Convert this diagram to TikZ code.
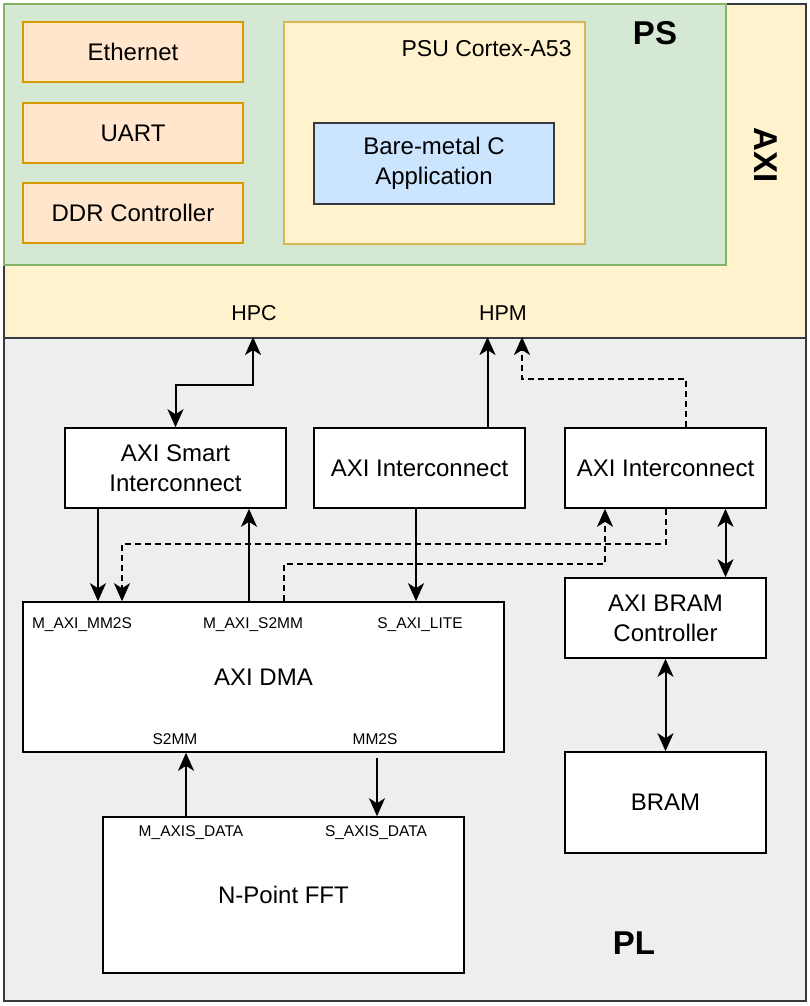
\documentclass[tikz,border=0pt]{standalone}
\usepackage{fontspec}
\setmainfont{Liberation Sans}
\usepackage{xcolor}
\usepackage{tikz}
\usetikzlibrary{arrows.meta, calc}

\definecolor{PSGreen}{HTML}{D5E8D4}
\definecolor{PSGreenLine}{HTML}{82B366}
\definecolor{AXIYellow}{HTML}{FFF2CC}
\definecolor{AXIYellowLine}{HTML}{D6B656}
\definecolor{PeriphFill}{HTML}{FFE6CC}
\definecolor{PeriphLine}{HTML}{D79B00}
\definecolor{AppBlue}{HTML}{CCE5FF}
\definecolor{DarkLine}{HTML}{36393D}
\definecolor{PLGray}{HTML}{EEEEEE}

\tikzset{
	region/.style={anchor=north west, line width=1.6pt, inner sep=0pt},
	block/.style={draw=black, fill=white, line width=1.6pt, inner sep=0pt, align=center,
		font=\fontsize{24}{30}\selectfont},
	periph/.style={block, draw=PeriphLine, fill=PeriphFill, minimum width=220, minimum height=60},
	port/.style={font=\fontsize{15.5}{18}\selectfont, inner sep=0pt},
	bigtitle/.style={font=\fontsize{33}{40}\selectfont\bfseries, inner sep=0pt},
	link/.style={line width=2pt, -{Stealth[length=18pt, width=16pt, inset=5pt]}},
	duplex/.style={link, {Stealth[length=18pt, width=16pt, inset=5pt]}-{Stealth[length=18pt, width=16pt, inset=5pt]}},
	dashlink/.style={link, dash pattern=on 6pt off 4pt}
}

\begin{document}
\begin{tikzpicture}[x=1pt, y=-1pt]

	\useasboundingbox (0,0) rectangle (809,1006);

	% AXI, PS and PL regions
	\node[region, draw=DarkLine, fill=AXIYellow, minimum width=802, minimum height=334] (axi) at (3,3) {};
	\node[region, draw=PSGreenLine, fill=PSGreen, minimum width=722, minimum height=261] (ps) at (3,3) {};
	\node[region, draw=DarkLine, fill=PLGray, minimum width=802, minimum height=663] (pl) at (3,337) {};

	\node[bigtitle] (pslbl) at (655,33) {PS};
	\node[bigtitle, rotate=-90] (axilbl) at (766,155) {AXI};
	\node[bigtitle] (pllbl) at (634,943) {PL};

	% PS side
	\node[periph] (eth) at (133,52) {Ethernet};
	\node[periph] (uart) at (133,133) {UART};
	\node[periph] (ddr) at (133,213) {DDR Controller};

	\node[block, draw=AXIYellowLine, fill=AXIYellow, minimum width=301, minimum height=222] (psu) at (434.5,133) {};
	\node[anchor=east, inner sep=0pt, font=\fontsize{23}{28}\selectfont] (psulbl) at ($ (psu.north east)+(-14,27) $) {PSU Cortex-A53};
	\node[block, draw=DarkLine, fill=AppBlue, minimum width=240, minimum height=81] (app) at (434,163.5) {Bare-metal C\\Application};

	\node[port, font=\fontsize{21.5}{26}\selectfont] (hpc) at (254,313) {HPC};
	\node[port, font=\fontsize{21.5}{26}\selectfont] (hpm) at (503,313) {HPM};

	% PL side
	\node[block, minimum width=221, minimum height=80] (smart) at (175.5,468) {AXI Smart\\Interconnect};
	\node[block, minimum width=211, minimum height=80] (icmid) at (419.5,468) {AXI Interconnect};
	\node[block, minimum width=201, minimum height=80] (icright) at (665.5,468) {AXI Interconnect};
	\node[block, minimum width=481, minimum height=150] (dma) at (263.5,677) {AXI DMA};
	\node[block, minimum width=201, minimum height=80] (bramctl) at (665.5,618) {AXI BRAM\\Controller};
	\node[block, minimum width=201, minimum height=101] (bram) at (665.5,802.5) {BRAM};
	\node[block, minimum width=361, minimum height=156] (fft) at (283.5,895) {N-Point FFT};

	\node[port] (mm2sm) at (82,625) {M\_AXI\_MM2S};
	\node[port] (s2mmm) at (253,625) {M\_AXI\_S2MM};
	\node[port] (lite) at (420,625) {S\_AXI\_LITE};
	\node[port] (s2mm) at (175,739) {S2MM};
	\node[port] (mm2s) at (375,739) {MM2S};
	\node[port] (mdata) at (191,833) {M\_AXIS\_DATA};
	\node[port] (sdata) at (376,833) {S\_AXIS\_DATA};

	% connections to the PS
	\draw[duplex] (smart.north) -- ++(0,-42) -| ($ (pl.north west)+(250,0) $);
	\draw[link] ([xshift=68]icmid.north) -- ([xshift=68]icmid.north |- pl.north);
	\draw[dashlink] ([xshift=20]icright.north) -- ++(0,-48) -| ($ (pl.north west)+(519,0) $);

	% DMA links
	\draw[link] ([xshift=-77.5]smart.south) -- ([xshift=-77.5]smart.south |- dma.north);
	\draw[link] ([xshift=-14.5]dma.north) -- ([xshift=-14.5]dma.north |- smart.south);
	\draw[link] ([xshift=-3.5]icmid.south) -- ([xshift=-3.5]icmid.south |- dma.north);
	\draw[dashlink] (icright.south) -- ++(0,35) -| ([xshift=-141.5]dma.north);
	\draw[dashlink] ([xshift=20.5]dma.north) -- ++(0,-37) -| ([xshift=-60.5]icright.south);

	% BRAM path
	\draw[duplex] ([xshift=60]icright.south) -- ([xshift=60]bramctl.north);
	\draw[duplex] (bramctl.south) -- (bram.north);

	% stream links
	\draw[link] ([xshift=-97.5]fft.north) -- ([xshift=-97.5]fft.north |- dma.south);
	\draw[link] ([xshift=113.5,yshift=-5]dma.south) -- ([xshift=93.5]fft.north);

\end{tikzpicture}
\end{document}
